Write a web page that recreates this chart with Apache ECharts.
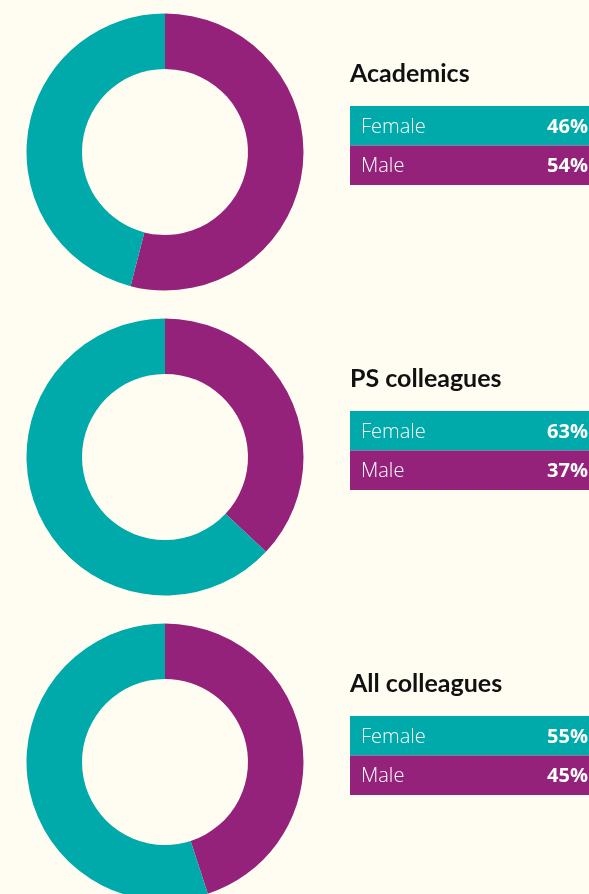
<!DOCTYPE html>
<html>
<head>
<meta charset="utf-8">
<script src="https://cdn.jsdelivr.net/npm/echarts@6/dist/echarts.min.js"></script>
<style>
  html, body { margin: 0; padding: 0; background: #fffdf2; }
  #chart { width: 589px; height: 894px; }
</style>
</head>
<body>
<div id="chart"></div>
<script>
// groups shown top to bottom
const groups = ['Academics', 'PS colleagues', 'All colleagues']
const genders = ['Male', 'Female']
// percent per group
const malePct = [54, 37, 45]
const femalePct = [46, 63, 55]

const teal = '#00a9aa'
const purple = '#94227a'
const font = 'Lato, "Open Sans", sans-serif'
const labelFont = '"Open Sans", Lato, sans-serif'

const chart = echarts.init(document.getElementById('chart'))

const gap = 305
let series = []
let graphic = []

groups.forEach((name, i) => {
    series.push({
        type: 'pie',
        center: [165, 152 + gap * i],
        radius: [83, 138.5],
        startAngle: 90,
        clockwise: true,
        silent: true,
        label: { show: false },
        labelLine: { show: false },
        data: [
            { name: genders[0], value: malePct[i], itemStyle: { color: purple } },
            { name: genders[1], value: femalePct[i], itemStyle: { color: teal } }
        ]
    })

    let top = 106 + gap * i
    // title
    graphic.push({
        type: 'text', x: 350, y: top - 32,
        style: { text: name, fill: '#111', font: 'bold 25px ' + font, align: 'left', verticalAlign: 'middle' }
    })
    // rows: female then male
    let rows = [
        { label: 'Female', pct: femalePct[i], color: teal },
        { label: 'Male', pct: malePct[i], color: purple }
    ]
    rows.forEach((r, j) => {
        let y = top + j * 39.5
        graphic.push({
            type: 'rect', shape: { x: 350, y: y, width: 250, height: 39.5 },
            style: { fill: r.color }
        })
        graphic.push({
            type: 'text', x: 361, y: y + 21,
            style: { text: r.label, fill: '#fff', font: '300 20px ' + labelFont, align: 'left', verticalAlign: 'middle' }
        })
        graphic.push({
            type: 'text', x: 588, y: y + 21,
            style: { text: r.pct + '%', fill: '#fff', font: 'bold 20px ' + labelFont, align: 'right', verticalAlign: 'middle' }
        })
    })
})

chart.setOption({
    backgroundColor: '#fffdf2',
    animation: false,
    series: series,
    graphic: graphic
})
</script>
</body>
</html>
